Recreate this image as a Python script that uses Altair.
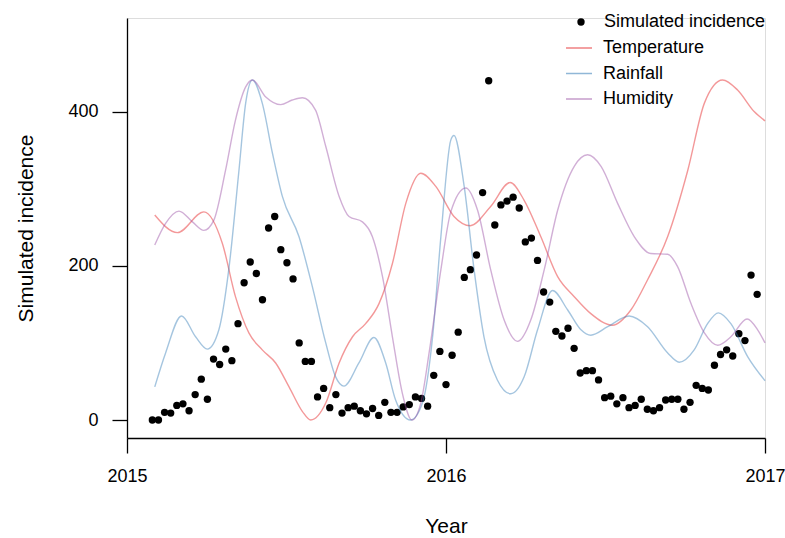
import altair as alt
import pandas as pd

# Weekly simulated incidence, starting the week of 30 Jan 2015
first_week = "2015-01-30"
incidence = [0, 0, 10, 9, 19, 21, 12, 33, 53, 27,
             79, 72, 92, 77, 125, 178, 205, 190, 156, 249,
             264, 221, 204, 183, 100, 76, 76, 30, 41, 16,
             33, 9, 16, 18, 12, 8, 15, 6, 23, 10,
             10, 17, 20, 30, 28, 18, 58, 89, 46, 84,
             114, 185, 195, 214, 295, 440, 253, 279, 284, 289,
             275, 231, 236, 207, 166, 153, 115, 109, 119, 93,
             61, 64, 64, 52, 29, 31, 21, 29, 16, 19,
             27, 14, 12, 16, 26, 27, 27, 14, 23, 45,
             41, 39, 71, 85, 91, 83, 112, 103, 188, 163]

# Covariate curves, rescaled to the incidence axis (decimal year, value)
temp_year = [2015.087, 2015.158, 2015.241, 2015.299, 2015.340, 2015.382, 2015.424, 2015.466,
             2015.508, 2015.550, 2015.576, 2015.623, 2015.665, 2015.707, 2015.748, 2015.790,
             2015.832, 2015.874, 2015.921, 2015.968, 2016.025, 2016.076, 2016.140, 2016.201,
             2016.245, 2016.297, 2016.350, 2016.402, 2016.454, 2016.522, 2016.580, 2016.632,
             2016.695, 2016.758, 2016.810, 2016.867, 2016.914, 2016.966, 2017.0]
temp_val = [266, 243, 270, 229, 160, 113, 91, 74, 43, 11,
            0, 22, 74, 108, 125, 151, 203, 281, 320, 303,
            264, 252, 277, 308, 285, 238, 186, 160, 138, 123,
            143, 182, 238, 324, 411, 441, 428, 400, 388]

rain_year = [2015.087, 2015.121, 2015.171, 2015.215, 2015.252, 2015.288, 2015.319, 2015.351,
             2015.372, 2015.393, 2015.424, 2015.456, 2015.487, 2015.539, 2015.581, 2015.623,
             2015.654, 2015.680, 2015.727, 2015.774, 2015.811, 2015.842, 2015.889, 2015.926,
             2015.958, 2015.984, 2016.015, 2016.025, 2016.057, 2016.088, 2016.119, 2016.161,
             2016.203, 2016.245, 2016.287, 2016.334, 2016.381, 2016.423, 2016.454, 2016.507,
             2016.574, 2016.632, 2016.695, 2016.731, 2016.778, 2016.820, 2016.854, 2016.893,
             2016.946, 2017.0]
rain_val = [43, 87, 135, 108, 92, 117, 195, 324, 411, 441,
            411, 346, 290, 238, 173, 100, 56, 44, 74, 107,
            74, 26, 0, 22, 108, 238, 363, 369, 303, 195,
            108, 52, 34, 56, 117, 168, 143, 117, 110, 121,
            135, 121, 87, 75, 91, 125, 139, 125, 82, 51]

hum_year = [2015.087, 2015.121, 2015.163, 2015.205, 2015.241, 2015.272, 2015.309, 2015.340,
            2015.372, 2015.393, 2015.435, 2015.482, 2015.518, 2015.550, 2015.591, 2015.623,
            2015.665, 2015.696, 2015.738, 2015.769, 2015.801, 2015.832, 2015.863, 2015.893,
            2015.921, 2015.947, 2015.984, 2016.015, 2016.062, 2016.099, 2016.140, 2016.182,
            2016.224, 2016.266, 2016.308, 2016.350, 2016.402, 2016.444, 2016.486, 2016.538,
            2016.590, 2016.642, 2016.695, 2016.726, 2016.768, 2016.810, 2016.852, 2016.893,
            2016.944, 2016.977, 2017.0]
hum_val = [227, 255, 271, 257, 246, 259, 324, 389, 432, 441,
           419, 409, 415, 418, 402, 355, 290, 264, 257, 238,
           186, 108, 35, 0, 22, 87, 195, 270, 301, 272,
           195, 130, 102, 130, 195, 272, 329, 344, 329, 281,
           238, 216, 215, 199, 151, 113, 97, 108, 131, 117,
           100]

series_names = ["Temperature", "Rainfall", "Humidity"]
series_colors = ["#E41A1C", "#377EB8", "#984EA3"]
incidence_ticks = [0, 200, 400]

weeks = pd.date_range(first_week, periods=len(incidence), freq="7D")
week_year = weeks.year + (weeks.dayofyear - 1) / (365 + weeks.is_leap_year.astype(int))
points = pd.DataFrame({"year": week_year, "value": incidence,
                       "label": "Simulated incidence"})

lines = pd.concat([
    pd.DataFrame({"year": temp_year, "value": temp_val, "series": "Temperature"}),
    pd.DataFrame({"year": rain_year, "value": rain_val, "series": "Rainfall"}),
    pd.DataFrame({"year": hum_year, "value": hum_val, "series": "Humidity"}),
], ignore_index=True)

font = "Liberation Sans"
x_scale = alt.Scale(domain=[2015, 2017], nice=False, zero=False)
y_scale = alt.Scale(domain=[-23.3, 521.4], nice=False, zero=False)

# yearly ticks: a tick count of 2 over two years yields 2015, 2016, 2017
x_axis = alt.Axis(title="Year", tickCount=2, format="d", grid=False,
                  tickSize=15, tickWidth=1.3, tickColor="black", domainColor="black",
                  domainWidth=1.3, labelFont=font, labelFontSize=18, labelColor="black",
                  labelPadding=14, labelFlush=False, labelOverlap=False, labelBound=False,
                  titleFont=font, titleFontSize=21, titleFontWeight="normal",
                  titleColor="black", titleY=88, titleBaseline="middle")
y_axis = alt.Axis(title="Simulated incidence", values=incidence_ticks, grid=False,
                  tickSize=15, tickWidth=1.3, tickColor="black", domainColor="black",
                  domainWidth=1.3, labelFont=font, labelFontSize=18, labelColor="black",
                  labelAngle=0, labelAlign="right", labelBaseline="middle",
                  labelPadding=14, labelOverlap=False, titleFont=font, titleFontSize=21,
                  titleFontWeight="normal", titleColor="black", titleX=-101,
                  titleY=210, titleBaseline="middle", titleAngle=270)

x_enc = alt.X("year:Q", scale=x_scale, axis=x_axis)
y_enc = alt.Y("value:Q", scale=y_scale, axis=y_axis)

dots = alt.Chart(points).mark_point(filled=True, size=54, color="black", opacity=1).encode(
    x=x_enc,
    y=y_enc,
    shape=alt.Shape("label:N",
                    scale=alt.Scale(domain=["Simulated incidence"], range=["circle"]),
                    legend=alt.Legend(title=None, orient="none", legendX=445, legendY=-5,
                                      labelFont=font, labelFontSize=18, labelColor="black",
                                      labelLimit=400, symbolSize=54, symbolFillColor="black",
                                      symbolStrokeColor="black", labelOffset=14,
                                      padding=0)),
)

curves = alt.Chart(lines).mark_line(strokeWidth=1.4, opacity=0.45,
                                    interpolate="monotone").encode(
    x=x_enc,
    y=y_enc,
    color=alt.Color("series:N",
                    scale=alt.Scale(domain=series_names, range=series_colors),
                    legend=alt.Legend(title=None, orient="none", legendX=438, legendY=16,
                                      labelFont=font, labelFontSize=18, labelColor="black",
                                      labelLimit=400, symbolType="stroke", symbolSize=676,
                                      symbolStrokeWidth=1.5, symbolOpacity=0.55,
                                      labelOffset=10, rowPadding=2.5, padding=0)),
    detail="series:N",
)

chart = alt.layer(dots, curves).properties(
    width=638, height=420,
    autosize=alt.AutoSizeParams(type="none"),
    padding={"left": 127, "top": 18, "right": 20, "bottom": 100},
).configure_view(stroke=None).configure(background="white")

chart.save("out.html", embed_options={"renderer": "svg", "actions": False})
